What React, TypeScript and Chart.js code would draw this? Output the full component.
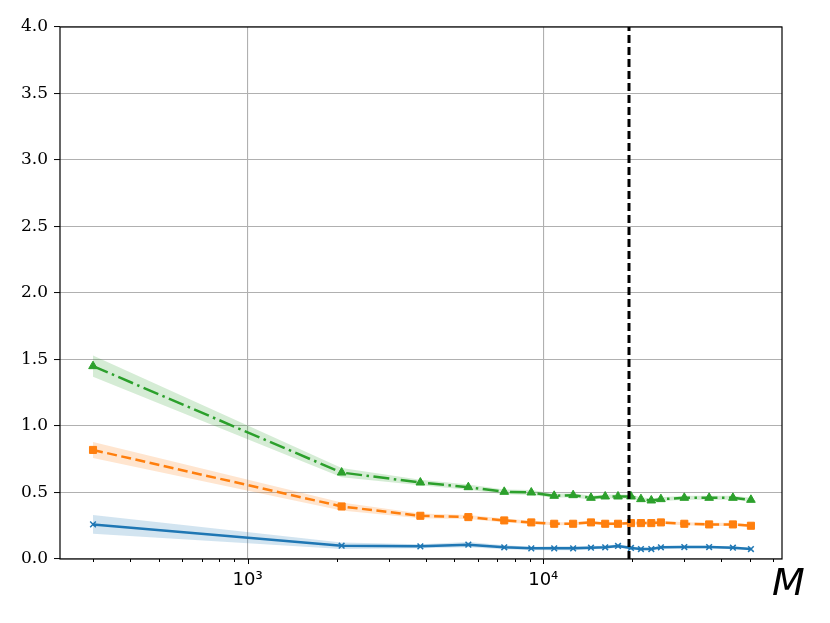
import { useEffect, useRef } from 'react';
import { Chart, registerables } from 'chart.js';

Chart.register(...registerables);

// M values (x, log scale)
const mValues = [300, 2080, 3840, 5580, 7380, 9110, 10890, 12620, 14500, 16200, 17900, 19800, 21400, 23200, 25000, 30000, 36400, 43800, 50400];

// mean curves
const blueValues = [0.26, 0.1, 0.095, 0.108, 0.088, 0.08, 0.08, 0.08, 0.085, 0.088, 0.098, 0.083, 0.075, 0.075, 0.088, 0.09, 0.09, 0.085, 0.075];
const orangeValues = [0.82, 0.395, 0.325, 0.315, 0.29, 0.275, 0.265, 0.265, 0.275, 0.265, 0.265, 0.27, 0.27, 0.27, 0.275, 0.265, 0.26, 0.26, 0.25];
const greenValues = [1.45, 0.65, 0.575, 0.54, 0.505, 0.5, 0.475, 0.48, 0.46, 0.47, 0.47, 0.47, 0.45, 0.44, 0.45, 0.46, 0.46, 0.46, 0.445];

// half-width of the shaded bands
const blueSpread = [0.07, 0.025, 0.015, 0.02, 0.015, 0.012, 0.015, 0.015, 0.012, 0.012, 0.012, 0.012, 0.01, 0.01, 0.01, 0.01, 0.01, 0.01, 0.01];
const orangeSpread = [0.06, 0.03, 0.018, 0.015, 0.015, 0.012, 0.012, 0.012, 0.012, 0.012, 0.012, 0.012, 0.012, 0.012, 0.012, 0.012, 0.012, 0.012, 0.012];
const greenSpread = [0.08, 0.035, 0.02, 0.02, 0.018, 0.018, 0.015, 0.015, 0.015, 0.015, 0.015, 0.015, 0.015, 0.015, 0.015, 0.015, 0.015, 0.015, 0.015];

// vertical dashed marker
const thresholdM = 19500;

// axis ticks
const xTickValues = [300, 400, 500, 600, 700, 800, 900, 1000, 2000, 3000, 4000, 5000, 6000, 7000, 8000, 9000, 10000, 20000, 30000, 40000, 50000, 60000];
const xTickLabels: Record<number, string> = { 1000: '10³', 10000: '10⁴' };
const xMin = 232;
const xMax = 64200;
const yMin = 0;
const yMax = 4;
const yStep = 0.5;

const BLUE = '#1f77b4';
const ORANGE = '#ff7f0e';
const GREEN = '#2ca02c';

const pts = (ys: number[]) => mValues.map((m, i) => ({ x: m, y: ys[i] }));
const band = (ys: number[], sp: number[], sign: number) => mValues.map((m, i) => ({ x: m, y: ys[i] + sign * sp[i] }));

const framePlugin = {
  id: 'frame',
  afterDraw(chart: any) {
    const { ctx, chartArea } = chart;
    const x = chart.scales.x;
    ctx.save();
    ctx.strokeStyle = '#000';
    ctx.lineWidth = 1.2;
    ctx.strokeRect(chartArea.left, chartArea.top, chartArea.right - chartArea.left, chartArea.bottom - chartArea.top);
    ctx.lineWidth = 1;
    xTickValues.forEach(v => {
      const px = Math.round(x.getPixelForValue(v)) + 0.5;
      const len = xTickLabels[v] ? 5 : 3;
      ctx.beginPath();
      ctx.moveTo(px, chartArea.bottom);
      ctx.lineTo(px, chartArea.bottom + len);
      ctx.stroke();
    });
    ctx.restore();
  }
};

export default function App() {
  const chartRef = useRef<HTMLCanvasElement>(null);
  const chartInstance = useRef<Chart | null>(null);

  useEffect(() => {
    if (!chartRef.current) return;
    if (chartInstance.current) chartInstance.current.destroy();

    const bandStyle = (color: string) => ({
      borderWidth: 0,
      pointRadius: 0,
      backgroundColor: color,
      borderColor: 'transparent'
    });

    chartInstance.current = new Chart(chartRef.current, {
      type: 'line',
      data: {
        datasets: [
          {
            data: [{ x: thresholdM, y: yMin }, { x: thresholdM, y: yMax }],
            borderColor: '#000',
            borderWidth: 3,
            borderDash: [8, 4],
            pointRadius: 0,
            fill: false
          },
          {
            data: pts(blueValues),
            borderColor: BLUE,
            backgroundColor: BLUE,
            borderWidth: 2.5,
            pointStyle: 'crossRot',
            pointRadius: 4,
            pointBorderWidth: 1.5,
            fill: false
          },
          {
            data: pts(orangeValues),
            borderColor: ORANGE,
            backgroundColor: ORANGE,
            borderWidth: 2.5,
            borderDash: [10, 4.5],
            pointStyle: 'rect',
            pointRadius: 5,
            pointBorderWidth: 1,
            fill: false
          },
          {
            data: pts(greenValues),
            borderColor: GREEN,
            backgroundColor: GREEN,
            borderWidth: 2.5,
            borderDash: [16, 4.5, 2.5, 4.5],
            pointStyle: 'triangle',
            pointRadius: 5,
            pointBorderWidth: 1,
            fill: false
          },
          { data: band(blueValues, blueSpread, 1), fill: '+1', ...bandStyle('rgba(31,119,180,0.2)') },
          { data: band(blueValues, blueSpread, -1), fill: false, ...bandStyle('rgba(31,119,180,0.2)') },
          { data: band(orangeValues, orangeSpread, 1), fill: '+1', ...bandStyle('rgba(255,127,14,0.2)') },
          { data: band(orangeValues, orangeSpread, -1), fill: false, ...bandStyle('rgba(255,127,14,0.2)') },
          { data: band(greenValues, greenSpread, 1), fill: '+1', ...bandStyle('rgba(44,160,44,0.2)') },
          { data: band(greenValues, greenSpread, -1), fill: false, ...bandStyle('rgba(44,160,44,0.2)') }
        ]
      },
      options: {
        animation: false,
        responsive: true,
        maintainAspectRatio: false,
        layout: { padding: { left: 0, top: 27, right: 48, bottom: 0 } },
        elements: { line: { tension: 0 } },
        plugins: {
          legend: { display: false },
          tooltip: { enabled: false }
        },
        scales: {
          x: {
            type: 'logarithmic',
            min: xMin,
            max: xMax,
            afterBuildTicks: (scale: any) => {
              scale.ticks = xTickValues.map(v => ({ value: v, major: !!xTickLabels[v] }));
            },
            afterFit: (scale: any) => {
              scale.height = 64;
            },
            border: { display: false },
            grid: {
              drawTicks: false,
              color: (ctx: any) => (ctx.tick && xTickLabels[ctx.tick.value] ? '#b0b0b0' : 'rgba(0,0,0,0)'),
              lineWidth: 1.1
            },
            ticks: {
              autoSkip: false,
              maxRotation: 0,
              padding: 11,
              color: '#000',
              font: { family: 'DejaVu Sans', size: 18 },
              callback: (value: any) => xTickLabels[Number(value)] ?? ''
            }
          },
          y: {
            min: yMin,
            max: yMax,
            afterFit: (scale: any) => {
              scale.width = 60;
            },
            border: { display: false },
            grid: {
              color: '#b0b0b0',
              lineWidth: 1.1,
              tickColor: '#000',
              tickLength: 6,
              tickWidth: 1
            },
            ticks: {
              stepSize: yStep,
              padding: 6,
              color: '#000',
              font: { family: 'DejaVu Serif', size: 17 },
              callback: (value: any) => Number(value).toFixed(1)
            }
          }
        }
      },
      plugins: [framePlugin]
    });

    return () => {
      if (chartInstance.current) {
        chartInstance.current.destroy();
        chartInstance.current = null;
      }
    };
  }, []);

  return (
    <div style={{ position: 'fixed', left: 0, top: 0, width: 830, height: 623, background: '#fff' }}>
      <canvas ref={chartRef} />
      <div
        style={{
          position: 'absolute',
          left: 772,
          top: 559,
          fontFamily: 'DejaVu Sans',
          fontStyle: 'italic',
          fontSize: 38,
          lineHeight: '46px',
          color: '#000'
        }}
      >
        M
      </div>
    </div>
  );
}
